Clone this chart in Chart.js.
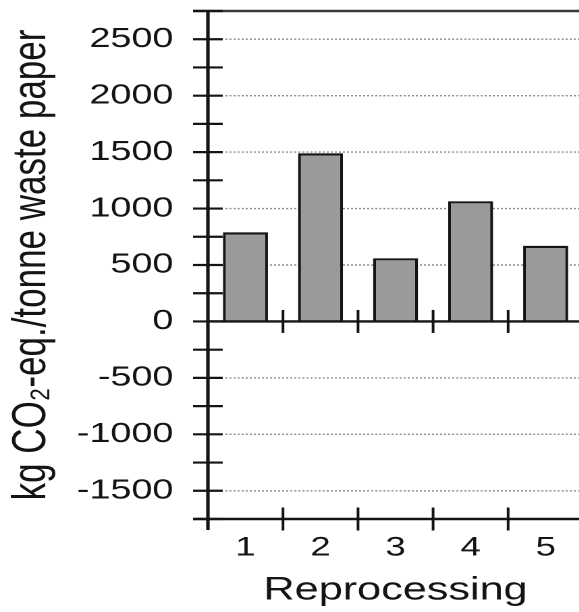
<!DOCTYPE html>
<html>
<head>
<meta charset="utf-8">
<script src="https://cdn.jsdelivr.net/npm/chart.js@4.4.1/dist/chart.umd.min.js"></script>
<style>
  html, body { margin: 0; padding: 0; background: #fff; width: 579px; height: 612px; overflow: hidden; }
  /* the figure is drawn narrow and widened horizontally, giving its broad lettering */
  #wrap { position: absolute; left: 0; top: 0; width: 440px; height: 612px;
          transform: scaleX(1.35); transform-origin: 0 0; }
</style>
</head>
<body>
<div id="wrap"><canvas id="chart" width="440" height="612"></canvas></div>
<script>
// Greenhouse-gas result per reprocessing scenario
const categories = ['1', '2', '3', '4', '5'];
const emissions = [790, 1490, 560, 1065, 670];

// value axis
const yMin = -1750;
const yMax = 2750;
const yStep = 250;      // every tick mark
const labelStep = 500;  // labelled ticks with dotted guides

const FONT = "'Liberation Sans', Arial, Helvetica, sans-serif";
const INK = '#141414';

function seg(ctx, x1, y1, x2, y2) {
  ctx.beginPath();
  ctx.moveTo(x1, y1);
  ctx.lineTo(x2, y2);
  ctx.stroke();
}

// Dotted guides, axis frame and tick marks that cross the axes
const framePlugin = {
  id: 'frame',
  beforeDatasetsDraw(chart) {
    const { ctx, chartArea: a, scales: { y } } = chart;
    ctx.save();
    ctx.strokeStyle = '#8c8c8c';
    ctx.lineWidth = 1.4;
    ctx.setLineDash([1.5, 1.5]);
    y.ticks.forEach(t => {
      if (t.value % labelStep === 0 && t.value !== 0 && t.value > yMin && t.value < yMax) {
        const py = y.getPixelForValue(t.value);
        seg(ctx, a.left + 13, py, a.right, py);
      }
    });
    ctx.restore();
  },
  afterDatasetsDraw(chart) {
    const { ctx, chartArea: a, scales: { x, y } } = chart;
    const half = 11;
    ctx.save();
    ctx.lineCap = 'butt';

    // top border
    ctx.strokeStyle = '#3a3a3a';
    ctx.lineWidth = 2.4;
    seg(ctx, a.left - half, y.getPixelForValue(yMax), a.right + 20, y.getPixelForValue(yMax));

    ctx.strokeStyle = INK;
    ctx.lineWidth = 2.4;
    // zero line and bottom axis
    const y0 = y.getPixelForValue(0);
    const yb = y.getPixelForValue(yMin);
    seg(ctx, a.left, y0, a.right + 20, y0);
    seg(ctx, a.left - half, yb, a.right + 20, yb);

    // left axis, running just below the bottom axis
    ctx.lineWidth = 2.6;
    seg(ctx, a.left, y.getPixelForValue(yMax), a.left, yb + 11);

    // y tick marks crossing the axis
    ctx.lineWidth = 2.2;
    y.ticks.forEach(t => {
      const py = y.getPixelForValue(t.value);
      seg(ctx, a.left - half, py, a.left + half, py);
    });

    // category boundary marks on the zero line and the bottom axis
    ctx.lineWidth = 2.0;
    for (let i = 0; i < categories.length - 1; i++) {
      const bx = (x.getPixelForValue(i) + x.getPixelForValue(i + 1)) / 2;
      seg(ctx, bx, y0 - 11.5, bx, y0 + 11.5);
      seg(ctx, bx, yb - 11.5, bx, yb + 11.5);
    }
    ctx.restore();
  }
};

new Chart(document.getElementById('chart'), {
  type: 'bar',
  data: {
    labels: categories,
    datasets: [{
      data: emissions,
      backgroundColor: '#9a9a9a',
      borderColor: INK,
      borderWidth: 2.2,
      barPercentage: 0.6,
      categoryPercentage: 1.0
    }]
  },
  options: {
    responsive: false,
    devicePixelRatio: 2,
    animation: false,
    layout: { padding: { top: 11, right: 8, left: 0, bottom: 0 } },
    plugins: { legend: { display: false }, tooltip: { enabled: false } },
    scales: {
      x: {
        grid: { display: false, drawTicks: false },
        border: { display: false },
        ticks: { color: INK, font: { family: FONT, size: 27 }, padding: 13 },
        title: { display: true, text: 'Reprocessing', color: INK,
                 font: { family: FONT, size: 32 }, padding: { top: 0, bottom: 2 } },
        afterFit(s) { s.height = 93; s.paddingLeft = 0; s.paddingRight = 0; }
      },
      y: {
        min: yMin,
        max: yMax,
        grid: { display: false, drawTicks: false },
        border: { display: false },
        ticks: {
          stepSize: yStep,
          autoSkip: false,
          color: INK,
          padding: 25.5,
          font: { family: FONT, size: 28 },
          callback: v => (v % labelStep === 0 && v > yMin && v < yMax) ? String(v) : ''
        },
        title: { display: true, text: 'kg CO\u2082-eq./tonne waste paper', color: INK,
                 font: { family: FONT, size: 35 }, padding: { top: 3, bottom: 0 } },
        afterFit(s) { s.width = 154; s.paddingTop = 0; s.paddingBottom = 0; }
      }
    }
  },
  plugins: [framePlugin]
});
</script>
</body>
</html>
